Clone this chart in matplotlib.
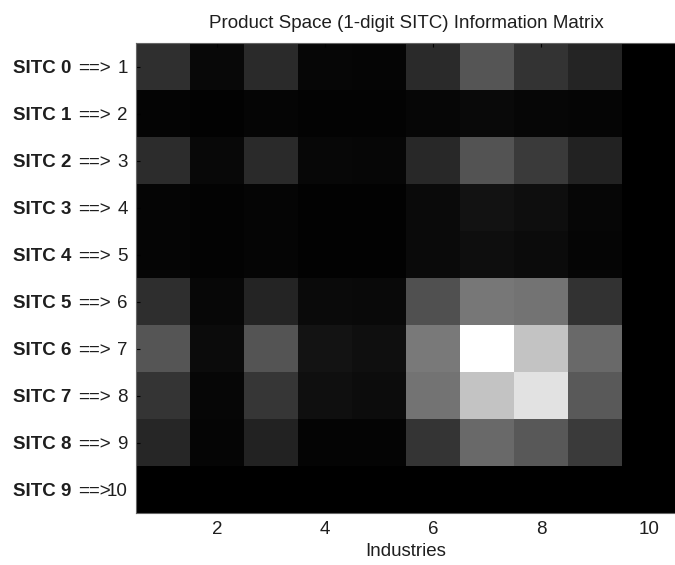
import numpy as np
import matplotlib.pyplot as plt
from matplotlib import transforms

plt.rcParams["font.family"] = ["Liberation Sans", "DejaVu Sans"]

# Information matrix between 1-digit SITC groups and industries (gray level 0-255)
sitc_groups = [f"SITC {k}" for k in range(10)]
industries = list(range(1, 11))
info = np.array([
    [47, 8, 42, 6, 5, 42, 85, 51, 36, 0],
    [4, 2, 5, 3, 3, 6, 9, 6, 5, 0],
    [44, 8, 42, 7, 6, 40, 83, 58, 34, 0],
    [5, 3, 5, 2, 2, 10, 18, 14, 6, 0],
    [5, 3, 5, 2, 2, 10, 14, 11, 5, 0],
    [46, 7, 37, 10, 9, 80, 119, 115, 50, 0],
    [85, 11, 84, 19, 15, 121, 255, 195, 106, 0],
    [52, 6, 54, 15, 12, 115, 195, 226, 90, 0],
    [38, 5, 34, 4, 4, 53, 106, 88, 58, 0],
    [0, 0, 0, 0, 0, 0, 0, 0, 0, 0],
])

fs = 13.5
txt = "#1e1e1e"

fig = plt.figure(figsize=(6.75, 5.65), dpi=100)
ax = fig.add_axes([136 / 675, 1 - 513 / 565, 540 / 675, 470 / 565])
ax.imshow(info, cmap="gray", vmin=0, vmax=255, interpolation="nearest",
          aspect="auto", extent=(0.5, 10.5, 10.5, 0.5))

ax.set_xticks([2, 4, 6, 8, 10])
ax.set_yticks(industries)
ax.set_yticklabels([str(i) for i in industries])
ax.tick_params(direction="in", length=3, labelsize=fs, top=True, right=True,
               colors="black", labelcolor=txt)
ax.tick_params(axis="y", pad=6)
ax.tick_params(axis="x", pad=6)
ax.set_xlabel("Industries", fontsize=fs, color=txt, labelpad=3)
ax.set_title("Product Space (1-digit SITC) Information Matrix",
             fontsize=fs, color=txt, pad=11)
for s in ax.spines.values():
    s.set_color("#666666")
    s.set_linewidth(0.8)

# Row captions to the left of the tick labels
trans = transforms.blended_transform_factory(fig.transFigure, ax.transData)
for i, name in enumerate(sitc_groups):
    ax.text(13 / 675, i + 1, name, transform=trans, ha="left",
            va="center_baseline", fontsize=fs, fontweight="bold", color=txt,
            clip_on=False)
    ax.text(78 / 675, i + 1, "==>", transform=trans, ha="left",
            va="center_baseline", fontsize=fs, color=txt, clip_on=False)

fig.savefig("out.png", dpi=100)
